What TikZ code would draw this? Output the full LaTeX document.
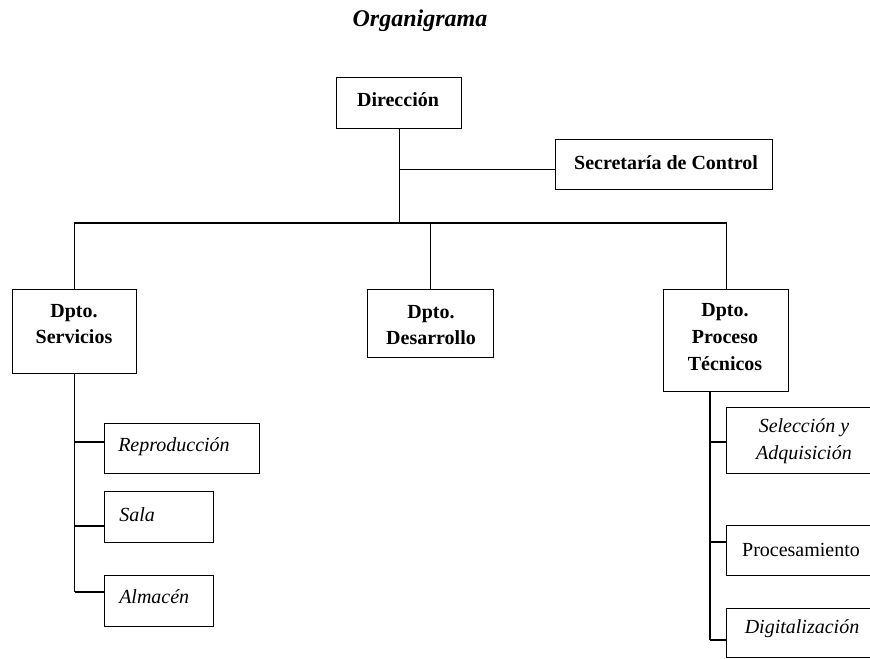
\documentclass[tikz,border=0pt]{standalone}
\usepackage{fontspec}
\setmainfont{Liberation Serif}
\begin{document}
\begin{tikzpicture}[x=0.75pt,y=-0.75pt,
  box/.style 2 args={draw, line width=1pt, inner sep=0pt, anchor=north west,
    minimum width=#1*0.75pt, minimum height=#2*0.75pt},
  txt/.style={font=\fontsize{15}{20}\selectfont, align=center, inner sep=0pt},
  btxt/.style={txt, font=\fontsize{15}{20}\selectfont\bfseries},
  itxt/.style={txt, font=\fontsize{15}{20}\selectfont\itshape},
  link/.style={line width=1pt}]

% page frame
\path[use as bounding box, clip] (0,0) rectangle (870,659);

% title
\node[txt, anchor=base, font=\fontsize{18}{22}\selectfont\bfseries\itshape] (title) at (420,27) {Organigrama};

% top level
\node[box={125}{51}] (dir) at (336,77) {};
\node[btxt] (dirT) at (398,100) {Dirección};
\node[box={217}{50}] (sec) at (555,139) {};
\node[btxt] (secT) at (666,163) {Secretaría de Control};

% departments
\node[box={124}{84}] (serv) at (12,289) {};
\node[btxt] (servT) at (74,324) {Dpto.\\Servicios};
\node[box={126}{68}] (des) at (367,289) {};
\node[btxt] (desT) at (431,325) {Dpto.\\Desarrollo};
\node[box={125}{102}] (tec) at (663,289) {};
\node[btxt] (tecT) at (725,337) {Dpto.\\Proceso\\Técnicos};

% units under Servicios
\node[box={155}{50}] (rep) at (104,423) {};
\node[itxt, anchor=west] (repT) at (118,447) {Reproducción};
\node[box={109}{51}] (sala) at (104,491) {};
\node[itxt, anchor=west] (salaT) at (119,515) {Sala};
\node[box={109}{51}] (alm) at (104,575) {};
\node[itxt, anchor=west] (almT) at (119,597) {Almacén};

% units under Proceso Técnicos
\node[box={146}{66}] (sel) at (726,407) {};
\node[itxt] (selT) at (804,441) {Selección y\\Adquisición};
\node[box={146}{50}] (proc) at (726,525) {};
\node[txt] (procT) at (801,550) {Procesamiento};
\node[box={146}{49}] (dig) at (726,608) {};
\node[itxt] (digT) at (802,629) {Digitalización};

% main tree
\coordinate (bus) at (399,223);
\draw[link] (dir.south) -- (dir.south |- bus);
\draw[link] (serv.north) |- (bus) -| (tec.north);
\draw[link] (des.north) -- (des.north |- bus);
\coordinate (secIn) at ([yshift=-3.75pt]sec.west);
\draw[link] (secIn) -- (secIn -| dir.south);

% Servicios trunk
\coordinate (l1) at (serv.south |- 0,442);
\coordinate (l2) at (serv.south |- 0,526);
\coordinate (l3) at (serv.south |- 0,592);
\draw[link] (serv.south) -- (l3);
\draw[link] (l1) -- (l1 -| rep.west);
\draw[link] (l2) -- (l2 -| sala.west);
\draw[link] (l3) -- (l3 -| alm.west);

% Proceso Técnicos trunk
\coordinate (r0) at (tec.south -| 710,0);
\coordinate (r1) at (r0 |- 0,442);
\coordinate (r2) at (r0 |- 0,542);
\coordinate (r3) at (r0 |- 0,640);
\draw[link] (r0) -- (r3);
\draw[link] (r1) -- (r1 -| sel.west);
\draw[link] (r2) -- (r2 -| proc.west);
\draw[link] (r3) -- (r3 -| dig.west);
\end{tikzpicture}
\end{document}
